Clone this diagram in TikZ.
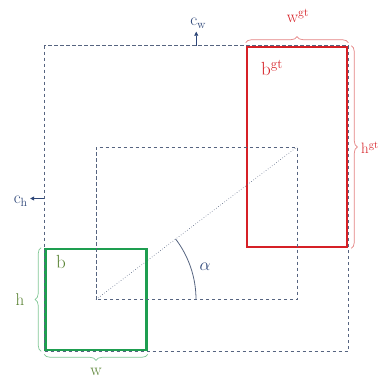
\documentclass[tikz,border=0pt]{standalone}
\usepackage{amsmath}
\usepackage{tikz}
\usetikzlibrary{arrows.meta, decorations.pathreplacing, calc}
\definecolor{gtred}{RGB}{214,32,38}
\definecolor{gtbrace}{RGB}{228,130,130}
\definecolor{prgreen}{RGB}{30,158,80}
\definecolor{prbrace}{RGB}{130,200,150}
\definecolor{prtext}{RGB}{88,130,50}
\definecolor{guide}{RGB}{86,100,128}
\definecolor{cblue}{RGB}{45,70,120}
\tikzstyle{arrow} = [cblue, line width=0.8pt, -{Triangle[length=4pt,width=4pt]}]

\begin{document}
\begin{tikzpicture}[
  x=1pt, y=-1pt,
  every node/.style={font=\fontsize{17}{19}\selectfont},
  gtbox/.style={rectangle, draw=gtred, line width=2.6pt, minimum width=100pt, minimum height=200pt, inner sep=0pt},
  predbox/.style={rectangle, draw=prgreen, line width=2.6pt, minimum width=101pt, minimum height=101pt, inner sep=0pt},
  dashbox/.style={draw=guide, line width=1pt, dash pattern=on 3.5pt off 2.5pt},
  bracegt/.style={draw=gtbrace, line width=0.7pt, decorate, decoration={brace, amplitude=6pt, raise=3pt}},
  bracepr/.style={draw=prbrace, line width=0.7pt, decorate, decoration={brace, amplitude=6pt, raise=3pt}}
]
\useasboundingbox (0,0) rectangle (380,383);

% Boxes
\node[gtbox] (bgt) at (297,147) {};
\node[predbox] (b) at (96,299.5) {};

% Enclosing box and centre box
\draw[dashbox] (b.west |- bgt.north) rectangle (bgt.east |- b.south);
\draw[dashbox] (b.center) rectangle (bgt.center);
\draw[guide, line width=0.6pt, dotted] (b.center) -- (bgt.center);

% Angle
\draw[guide, line width=0.8pt] ($(b.center)+(100,0)$) arc[start angle=0, end angle=37.3, radius=100pt];
\node[cblue] (alpha) at (205,267) {$\alpha$};

% Labels of the boxes
\node[gtred, font=\fontsize{19}{21}\selectfont] (bgtlabel) at (272,68) {b$^{\text{gt}}$};
\node[prtext, font=\fontsize{19}{21}\selectfont] (blabel) at (61,262) {b};

% Widths and heights
\draw[bracegt] (bgt.north west) -- (bgt.north east);
\node[gtred] (wgt) at (298,16) {w$^{\text{gt}}$};
\draw[bracegt] (bgt.north east) -- (bgt.south east);
\node[gtred, anchor=west, inner sep=0pt, font=\fontsize{15}{17}\selectfont] (hgt) at (361,148) {h$^{\text{gt}}$};
\draw[bracepr] (b.south west) -- (b.north west);
\node[prtext] (h) at (20,300) {h};
\draw[bracepr] (b.south east) -- (b.south west);
\node[prtext] (w) at (96,372) {w};

% Diagonal lengths
\coordinate (cwbase) at ($(b.west |- bgt.north)!0.5!(bgt.north east)$);
\coordinate (chbase) at ($(b.west |- bgt.north)!0.5!(b.south west)$);
\node[cblue, anchor=south] (cw) at ($(cwbase)+(2,-14)$) {c$_{\text{w}}$};
\node[cblue, anchor=east] (ch) at ($(chbase)+(-13,3)$) {c$_{\text{h}}$};
\draw[arrow] (cwbase) -- ($(cwbase)+(0,-14)$);
\draw[arrow] (chbase) -- ($(chbase)+(-14,0)$);

\end{tikzpicture}
\end{document}
